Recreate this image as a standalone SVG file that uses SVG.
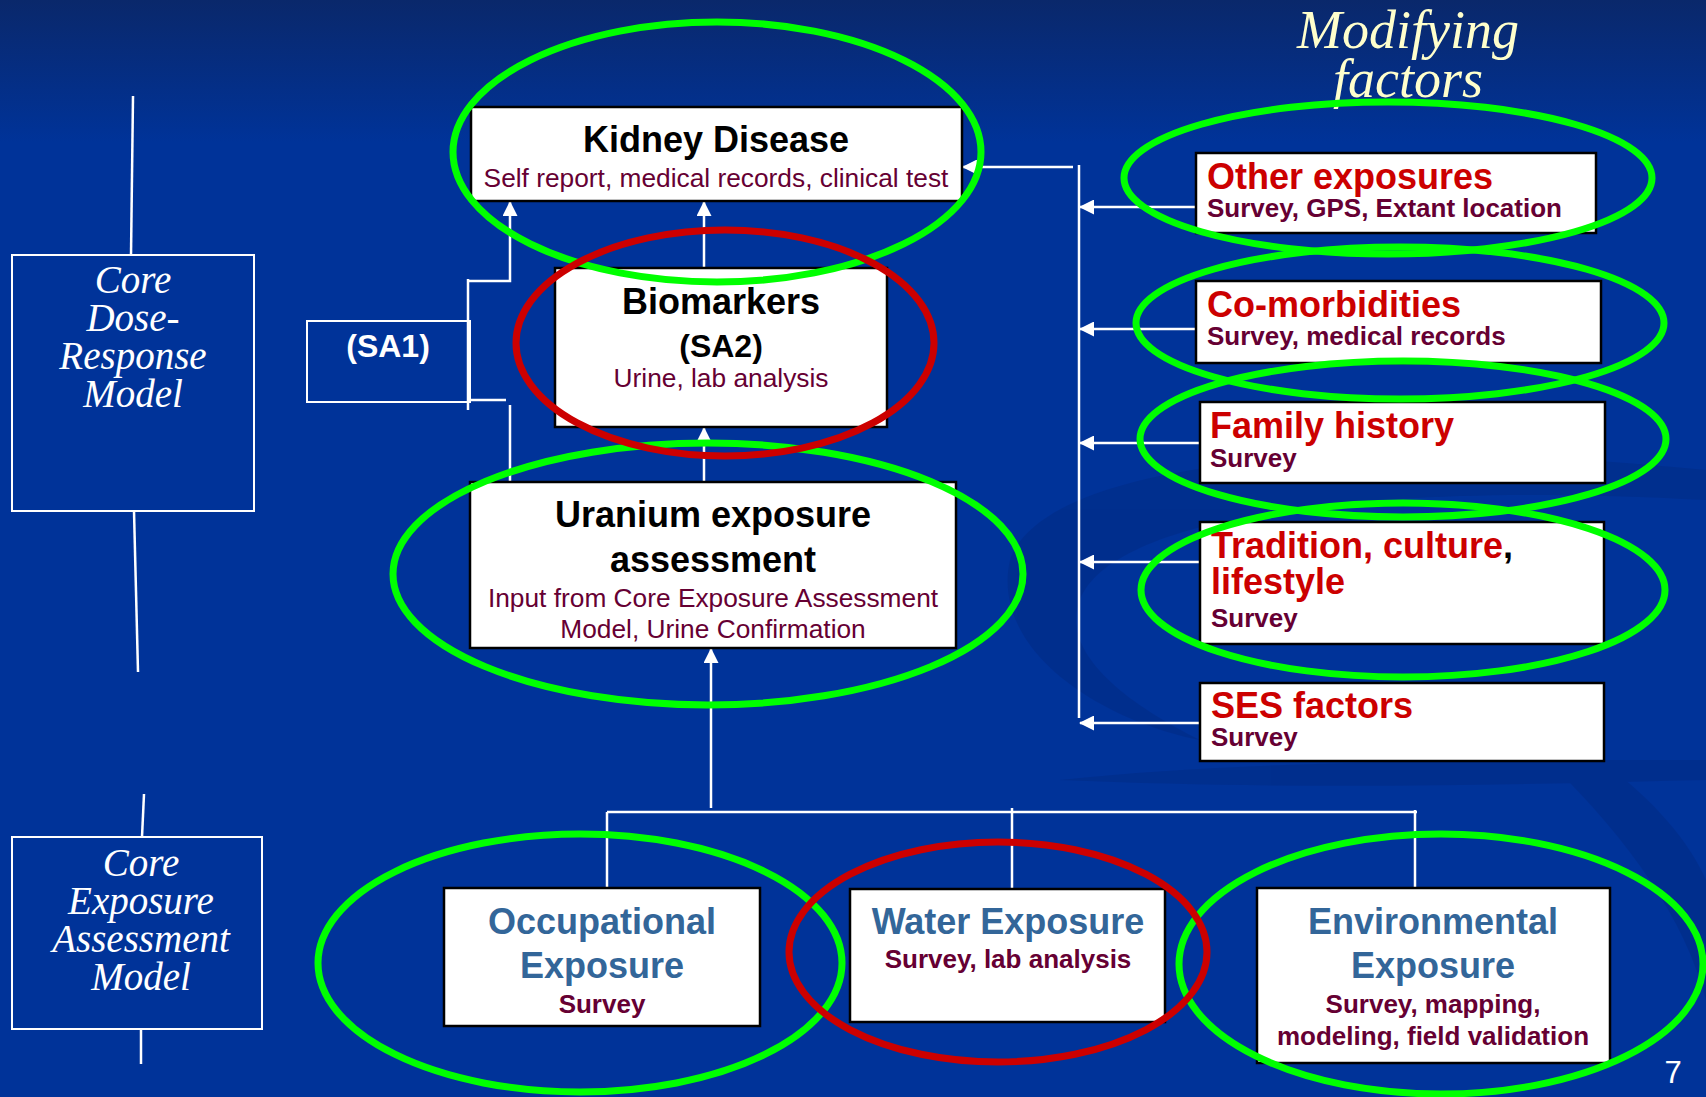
<svg xmlns="http://www.w3.org/2000/svg" width="1706" height="1097" viewBox="0 0 1706 1097">
<defs>
<linearGradient id="bg" x1="0" y1="0" x2="0" y2="1097" gradientUnits="userSpaceOnUse">
<stop offset="0" stop-color="#0a286b"/>
<stop offset="0.13" stop-color="#003399"/>
<stop offset="1" stop-color="#003399"/>
</linearGradient>
<marker id="ah" markerUnits="userSpaceOnUse" markerWidth="15" markerHeight="15" viewBox="0 0 15 15" refX="14" refY="7.5" orient="auto">
<path d="M0,0 L15,7.5 L0,15 z" fill="#ffffff"/>
</marker>
<style>
.box{fill:#ffffff;stroke:#000000;stroke-width:2.5}
.frame{fill:none;stroke:#ffffff;stroke-width:2}
.ln{fill:none;stroke:#ffffff;stroke-width:2.5}
.arr{fill:none;stroke:#ffffff;stroke-width:2.5;marker-end:url(#ah)}
.g{fill:none;stroke:#00ff00;stroke-width:7}
.r{fill:none;stroke:#cc0000;stroke-width:7}
.sans{font-family:"Liberation Sans",Arial,sans-serif}
.script{font-family:"Liberation Serif","Times New Roman",serif;font-style:italic}
.h{font-family:"Liberation Sans",Arial,sans-serif;font-weight:bold;font-size:36px;fill:#000000}
.hb{font-family:"Liberation Sans",Arial,sans-serif;font-weight:bold;font-size:36px;fill:#336699}
.hr{font-family:"Liberation Sans",Arial,sans-serif;font-weight:bold;font-size:36px;fill:#cc0000}
.s{font-family:"Liberation Sans",Arial,sans-serif;font-size:26.3px;fill:#660033}
.sb{font-family:"Liberation Sans",Arial,sans-serif;font-weight:bold;font-size:26px;fill:#660033}
.side{font-family:"Liberation Serif","Times New Roman",serif;font-style:italic;font-size:39px;fill:#ffffff}
</style>
</defs>
<rect x="0" y="0" width="1706" height="1097" fill="url(#bg)"/>
<g id="decor" fill="#002b85" opacity="0.55">
<path d="M1010,560 C1040,470 1300,430 1706,470 L1706,500 C1350,480 1110,520 1080,600 C1060,650 1120,700 1200,740 C1100,720 990,650 1010,560 z"/>
<path d="M1480,700 C1600,740 1680,820 1706,880 L1706,1000 C1680,900 1600,800 1480,700 z"/>
<path d="M1060,780 C1250,760 1480,760 1706,760 L1706,780 C1500,785 1300,790 1060,780 z"/>
</g>

<g id="connectors">
<line class="ln" x1="510" y1="482" x2="510" y2="405"/>
<line class="ln" x1="468" y1="400" x2="506" y2="400"/>
<line class="ln" x1="468" y1="279" x2="468" y2="410"/>
<polyline class="arr" points="468,281 510,281 510,202"/>
<line class="arr" x1="704" y1="268" x2="704" y2="202"/>
<line class="arr" x1="704" y1="482" x2="704" y2="428"/>
<line class="arr" x1="711" y1="808" x2="711" y2="649"/>
<line class="ln" x1="607" y1="812" x2="1417" y2="812"/>
<line class="ln" x1="607" y1="812" x2="607" y2="888"/>
<line class="ln" x1="1012" y1="808" x2="1012" y2="889"/>
<line class="ln" x1="1415" y1="810" x2="1415" y2="888"/>
<line class="ln" x1="1079" y1="165" x2="1079" y2="718"/>
<line class="arr" x1="1073" y1="167" x2="963" y2="167"/>
<line class="arr" x1="1196" y1="207" x2="1080" y2="207"/>
<line class="arr" x1="1196" y1="329" x2="1080" y2="329"/>
<line class="arr" x1="1200" y1="443" x2="1080" y2="443"/>
<line class="arr" x1="1200" y1="562" x2="1080" y2="562"/>
<line class="arr" x1="1200" y1="723" x2="1080" y2="723"/>
<line class="ln" x1="133" y1="96" x2="131" y2="255" stroke-width="2"/>
<line class="ln" x1="134" y1="511" x2="138" y2="672" stroke-width="2"/>
<line class="ln" x1="144" y1="794" x2="142" y2="837" stroke-width="2"/>
<line class="ln" x1="141" y1="1029" x2="141" y2="1064" stroke-width="2"/>
</g>

<g id="core-dose-response">
<rect class="frame" x="12" y="255" width="242" height="256"/>
<text class="side" text-anchor="middle"><tspan x="133" y="293">Core</tspan><tspan x="133" y="331">Dose-</tspan><tspan x="133" y="369">Response</tspan><tspan x="133" y="407">Model</tspan></text>
</g>

<g id="core-exposure">
<rect class="frame" x="12" y="837" width="250" height="192"/>
<text class="side" text-anchor="middle"><tspan x="141" y="876">Core</tspan><tspan x="141" y="914">Exposure</tspan><tspan x="141" y="952">Assessment</tspan><tspan x="141" y="990">Model</tspan></text>
</g>

<g id="modifying-factors">
<text class="script" font-size="54" fill="#ffffcc" text-anchor="middle"><tspan x="1408" y="48">Modifying</tspan><tspan x="1408" y="97">factors</tspan></text>
</g>

<g id="sa1">
<rect class="frame" x="307" y="321" width="163" height="81"/>
<text class="sans" x="388" y="357" font-size="32" font-weight="bold" fill="#ffffff" text-anchor="middle">(SA1)</text>
</g>

<g id="kidney">
<rect class="box" x="471" y="107" width="491" height="94"/>
<text class="h" x="716" y="152" text-anchor="middle">Kidney Disease</text>
<text class="s" x="716" y="187" text-anchor="middle">Self report, medical records, clinical test</text>
</g>

<g id="biomarkers">
<rect class="box" x="555" y="268" width="332" height="159"/>
<text class="h" x="721" y="314" text-anchor="middle">Biomarkers</text>
<text class="sans" x="721" y="357" font-size="32" font-weight="bold" fill="#000000" text-anchor="middle">(SA2)</text>
<text class="s" x="721" y="387" text-anchor="middle">Urine, lab analysis</text>
</g>

<g id="uranium">
<rect class="box" x="470" y="482" width="486" height="166"/>
<text class="h" text-anchor="middle"><tspan x="713" y="527">Uranium exposure</tspan><tspan x="713" y="572">assessment</tspan></text>
<text class="s" text-anchor="middle"><tspan x="713" y="607">Input from Core Exposure Assessment</tspan><tspan x="713" y="638">Model, Urine Confirmation</tspan></text>
</g>

<g id="other-exposures">
<rect class="box" x="1196" y="153" width="400" height="80"/>
<text class="hr" x="1207" y="189">Other exposures</text>
<text class="sb" x="1207" y="217">Survey, GPS, Extant location</text>
</g>

<g id="co-morbidities">
<rect class="box" x="1196" y="281" width="405" height="82"/>
<text class="hr" x="1207" y="317">Co-morbidities</text>
<text class="sb" x="1207" y="345">Survey, medical records</text>
</g>

<g id="family-history">
<rect class="box" x="1200" y="402" width="405" height="81"/>
<text class="hr" x="1210" y="438">Family history</text>
<text class="sb" x="1210" y="467">Survey</text>
</g>

<g id="tradition">
<rect class="box" x="1200" y="522" width="404" height="122"/>
<text class="hr" x="1211" y="558">Tradition, culture<tspan fill="#000000">,</tspan></text>
<text class="hr" x="1211" y="594">lifestyle</text>
<text class="sb" x="1211" y="627">Survey</text>
</g>

<g id="ses">
<rect class="box" x="1200" y="683" width="404" height="78"/>
<text class="hr" x="1211" y="718">SES factors</text>
<text class="sb" x="1211" y="746">Survey</text>
</g>

<g id="occupational">
<rect class="box" x="444" y="888" width="316" height="138"/>
<text class="hb" text-anchor="middle"><tspan x="602" y="934">Occupational</tspan><tspan x="602" y="978">Exposure</tspan></text>
<text class="sb" x="602" y="1013" text-anchor="middle">Survey</text>
</g>

<g id="water">
<rect class="box" x="850" y="889" width="315" height="133"/>
<text class="hb" x="1008" y="934" text-anchor="middle">Water Exposure</text>
<text class="sb" x="1008" y="968" text-anchor="middle">Survey, lab analysis</text>
</g>

<g id="environmental">
<rect class="box" x="1257" y="888" width="353" height="175"/>
<text class="hb" text-anchor="middle"><tspan x="1433" y="934">Environmental</tspan><tspan x="1433" y="978">Exposure</tspan></text>
<text class="sb" text-anchor="middle"><tspan x="1433" y="1013">Survey, mapping,</tspan><tspan x="1433" y="1045">modeling, field validation</tspan></text>
</g>

<g id="highlights">
<ellipse class="g" cx="717" cy="152" rx="264" ry="130"/>
<ellipse class="g" cx="708" cy="574" rx="315" ry="131"/>
<ellipse class="g" cx="1388" cy="178" rx="264" ry="76"/>
<ellipse class="g" cx="1400" cy="323" rx="264" ry="76"/>
<ellipse class="g" cx="1403" cy="439" rx="263" ry="78"/>
<ellipse class="g" cx="1403" cy="590" rx="262" ry="87"/>
<ellipse class="g" cx="580" cy="963" rx="262" ry="129"/>
<ellipse class="g" cx="1441" cy="964" rx="262" ry="130"/>
<ellipse class="r" cx="725" cy="343" rx="209" ry="113"/>
<ellipse class="r" cx="998" cy="952" rx="209" ry="110"/>
</g>

<text class="sans" x="1673" y="1083" font-size="31" fill="#ffffff" text-anchor="middle">7</text>
</svg>
